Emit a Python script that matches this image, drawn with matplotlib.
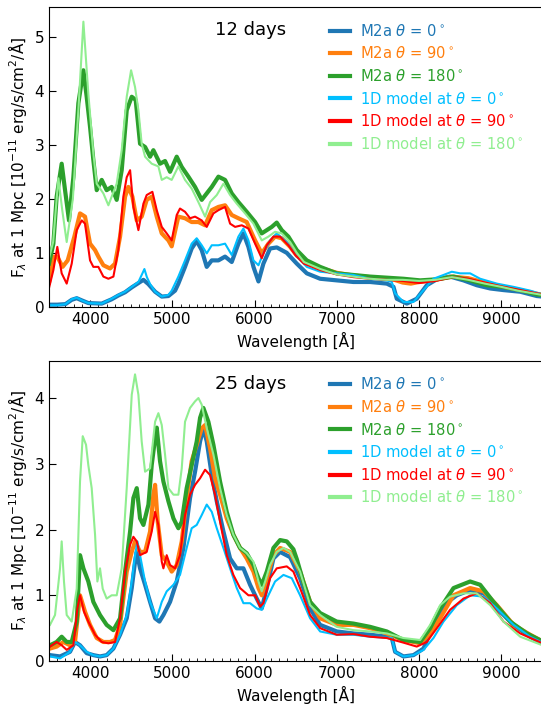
import numpy as np
import matplotlib
matplotlib.use('Agg')
import matplotlib.pyplot as plt
from matplotlib.ticker import MultipleLocator

# --- 12 days: (wavelength [A], flux [1e-11 erg/s/cm2/A])
m2a_0_12d = [(3500, 0.04), (3600, 0.04), (3700, 0.05), (3776, 0.13), (3837, 0.16), (3898, 0.12),
             (3978, 0.07), (4141, 0.06), (4262, 0.14), (4343, 0.21), (4425, 0.27), (4506, 0.36),
             (4587, 0.44), (4648, 0.5), (4709, 0.42), (4790, 0.28), (4871, 0.19), (4952, 0.2),
             (4992, 0.25), (5033, 0.3), (5073, 0.43), (5154, 0.74), (5235, 1.08), (5296, 1.22),
             (5357, 1.05), (5418, 0.74), (5479, 0.86), (5560, 0.86), (5641, 0.93), (5722, 0.83),
             (5803, 1.17), (5864, 1.36), (5925, 1.11), (5986, 0.74), (6047, 0.47), (6107, 0.8),
             (6188, 1.08), (6270, 1.1), (6391, 1.0), (6513, 0.8), (6635, 0.62), (6797, 0.52),
             (6999, 0.49), (7202, 0.46), (7405, 0.46), (7608, 0.43), (7689, 0.37), (7729, 0.15),
             (7851, 0.06), (7972, 0.15), (8094, 0.4), (8216, 0.51), (8378, 0.56), (8540, 0.49),
             (8702, 0.4), (8865, 0.34), (9027, 0.31), (9230, 0.28), (9432, 0.2), (9500, 0.19)]
m2a_90_12d = [(3500, 0.45), (3560, 0.93), (3600, 0.93), (3665, 0.74), (3727, 0.86), (3808, 1.3),
              (3877, 1.73), (3938, 1.67), (3999, 1.17), (4060, 1.05), (4100, 0.93), (4161, 0.77),
              (4242, 0.71), (4303, 0.8), (4364, 1.3), (4425, 2.04), (4465, 2.22), (4514, 2.04),
              (4567, 1.6), (4627, 1.67), (4688, 1.98), (4749, 2.04), (4810, 1.67), (4871, 1.36),
              (4952, 1.23), (4992, 1.12), (5033, 1.4), (5073, 1.67), (5154, 1.64), (5235, 1.57),
              (5317, 1.57), (5398, 1.51), (5479, 1.79), (5560, 1.85), (5641, 1.88), (5722, 1.7),
              (5803, 1.64), (5904, 1.57), (6006, 1.23), (6087, 0.99), (6168, 1.17), (6249, 1.3),
              (6330, 1.27), (6432, 1.11), (6513, 0.95), (6600, 0.85), (6800, 0.72), (7000, 0.63),
              (7200, 0.58), (7400, 0.55), (7600, 0.52), (7700, 0.5), (7800, 0.45), (7900, 0.43),
              (8000, 0.46), (8200, 0.5), (8400, 0.56), (8600, 0.53), (8800, 0.45), (9000, 0.38),
              (9200, 0.32), (9500, 0.22)]
m2a_180_12d = [(3500, 0.8), (3553, 1.17), (3593, 2.04), (3654, 2.65), (3695, 2.16), (3743, 1.6),
               (3796, 2.4), (3857, 3.77), (3918, 4.38), (3958, 3.89), (3999, 3.33), (4039, 2.72),
               (4080, 2.16), (4141, 2.35), (4201, 2.16), (4262, 2.22), (4323, 1.98), (4384, 2.53),
               (4445, 3.64), (4506, 3.89), (4554, 3.83), (4607, 3.02), (4668, 2.96), (4729, 2.78),
               (4769, 2.9), (4850, 2.65), (4911, 2.7), (4972, 2.5), (5053, 2.78), (5114, 2.59),
               (5195, 2.41), (5276, 2.22), (5357, 1.98), (5418, 2.1), (5479, 2.22), (5560, 2.41),
               (5641, 2.35), (5722, 2.1), (5803, 1.94), (5904, 1.76), (6006, 1.57), (6087, 1.36),
               (6148, 1.42), (6209, 1.48), (6269, 1.56), (6330, 1.42), (6411, 1.3), (6513, 1.05),
               (6635, 0.86), (6797, 0.74), (6999, 0.62), (7202, 0.59), (7405, 0.56), (7608, 0.54),
               (7810, 0.52), (8013, 0.49), (8216, 0.51), (8419, 0.56), (8621, 0.49), (8824, 0.4),
               (9027, 0.37), (9230, 0.31), (9432, 0.23), (9500, 0.22)]
m1d_0_12d = [(3500, 0.03), (3600, 0.03), (3700, 0.05), (3776, 0.14), (3837, 0.17), (3898, 0.12),
             (3978, 0.07), (4141, 0.06), (4262, 0.15), (4343, 0.22), (4425, 0.28), (4506, 0.37),
             (4587, 0.46), (4630, 0.6), (4660, 0.7), (4690, 0.55), (4730, 0.42), (4790, 0.28),
             (4871, 0.19), (4952, 0.22), (4992, 0.3), (5073, 0.56), (5154, 0.86), (5235, 1.17),
             (5296, 1.27), (5357, 1.14), (5418, 0.99), (5479, 1.14), (5560, 1.14), (5641, 1.17),
             (5722, 0.96), (5803, 1.3), (5864, 1.45), (5925, 1.23), (5986, 0.86), (6047, 0.77),
             (6107, 0.99), (6188, 1.23), (6270, 1.36), (6391, 1.2), (6513, 0.93), (6635, 0.74),
             (6797, 0.65), (6999, 0.62), (7202, 0.59), (7405, 0.52), (7608, 0.49), (7669, 0.46),
             (7709, 0.25), (7810, 0.09), (7932, 0.09), (8054, 0.31), (8175, 0.52), (8297, 0.59),
             (8398, 0.65), (8500, 0.62), (8621, 0.62), (8743, 0.52), (8946, 0.43), (9149, 0.37),
             (9351, 0.3), (9500, 0.23)]
m1d_90_12d = [(3500, 0.35), (3553, 0.68), (3601, 1.11), (3654, 0.62), (3715, 0.43), (3776, 0.8),
              (3837, 1.42), (3898, 1.6), (3938, 1.54), (3999, 0.86), (4039, 0.74), (4100, 0.74),
              (4161, 0.56), (4222, 0.52), (4283, 0.56), (4343, 1.05), (4404, 2.04), (4445, 2.4),
              (4486, 2.53), (4526, 1.85), (4587, 1.42), (4648, 1.91), (4688, 2.07), (4757, 2.13),
              (4810, 1.79), (4871, 1.48), (4931, 1.36), (4992, 1.23), (5053, 1.7), (5093, 1.82),
              (5154, 1.76), (5215, 1.64), (5276, 1.67), (5357, 1.6), (5418, 1.48), (5499, 1.73),
              (5560, 1.79), (5641, 1.85), (5702, 1.54), (5763, 1.48), (5844, 1.51), (5925, 1.45),
              (6006, 1.17), (6087, 0.9), (6148, 1.14), (6229, 1.3), (6310, 1.3), (6411, 1.14),
              (6500, 0.95), (6600, 0.8), (6800, 0.68), (7000, 0.6), (7200, 0.55), (7400, 0.52),
              (7600, 0.5), (7800, 0.48), (8000, 0.44), (8200, 0.48), (8400, 0.55), (8600, 0.52),
              (8800, 0.45), (9000, 0.38), (9200, 0.32), (9500, 0.23)]
m1d_180_12d = [(3500, 0.9), (3550, 1.2), (3614, 2.38), (3660, 1.8), (3715, 1.2), (3790, 2.0),
               (3857, 3.64), (3918, 5.28), (3978, 3.95), (4039, 2.84), (4080, 2.28), (4161, 2.1),
               (4222, 1.88), (4262, 2.04), (4323, 2.28), (4384, 2.9), (4445, 3.89), (4498, 4.38),
               (4546, 4.07), (4587, 3.64), (4627, 3.02), (4668, 2.78), (4749, 2.65), (4830, 2.6),
               (4871, 2.35), (4931, 2.4), (4992, 2.35), (5073, 2.6), (5154, 2.35), (5235, 2.19),
               (5316, 1.94), (5398, 1.67), (5459, 1.94), (5540, 2.07), (5621, 2.28), (5702, 2.07),
               (5783, 1.91), (5884, 1.73), (5986, 1.54), (6087, 1.23), (6168, 1.3), (6249, 1.39),
               (6330, 1.36), (6432, 1.2), (6513, 1.0), (6600, 0.83), (6800, 0.7), (7000, 0.6),
               (7200, 0.56), (7400, 0.52), (7600, 0.5), (7800, 0.5), (8000, 0.48), (8200, 0.5),
               (8400, 0.55), (8600, 0.5), (8800, 0.43), (9000, 0.37), (9200, 0.3), (9500, 0.22)]

# --- 25 days
m2a_0_25d = [(3512, 0.09), (3634, 0.07), (3755, 0.14), (3816, 0.29), (3877, 0.24), (3958, 0.12),
             (4039, 0.09), (4120, 0.07), (4201, 0.09), (4283, 0.19), (4364, 0.4), (4445, 0.65),
             (4506, 1.11), (4546, 1.51), (4567, 1.66), (4607, 1.41), (4668, 1.16), (4729, 0.9),
             (4790, 0.65), (4842, 0.6), (4891, 0.7), (4972, 0.9), (5053, 1.21), (5134, 1.72),
             (5215, 2.48), (5276, 2.88), (5337, 3.34), (5377, 3.54), (5418, 3.34), (5479, 2.83),
             (5540, 2.43), (5621, 1.97), (5702, 1.56), (5783, 1.41), (5864, 1.41), (5945, 1.16),
             (6026, 0.95), (6087, 0.8), (6148, 1.11), (6229, 1.56), (6310, 1.66), (6432, 1.58),
             (6553, 1.26), (6675, 0.8), (6797, 0.55), (6999, 0.45), (7202, 0.42), (7405, 0.4),
             (7608, 0.37), (7669, 0.35), (7709, 0.14), (7810, 0.07), (7932, 0.09), (8054, 0.19),
             (8175, 0.55), (8297, 0.85), (8459, 1.0), (8621, 1.08), (8784, 1.03), (8946, 0.8),
             (9149, 0.55), (9351, 0.37), (9500, 0.27)]
m2a_90_25d = [(3512, 0.19), (3593, 0.22), (3674, 0.29), (3755, 0.24), (3816, 0.29), (3877, 1.0),
              (3938, 0.75), (3999, 0.55), (4080, 0.35), (4161, 0.29), (4242, 0.29), (4303, 0.32),
              (4364, 0.55), (4445, 1.36), (4506, 1.66), (4546, 1.82), (4607, 1.66), (4668, 1.66),
              (4729, 1.97), (4769, 2.53), (4790, 2.68), (4822, 2.12), (4871, 1.61), (4931, 1.51),
              (4992, 1.36), (5053, 1.46), (5114, 1.82), (5174, 2.48), (5235, 3.04), (5296, 3.29),
              (5357, 3.54), (5398, 3.59), (5458, 3.24), (5519, 2.78), (5580, 2.53), (5661, 2.17),
              (5742, 1.92), (5823, 1.72), (5904, 1.56), (5986, 1.36), (6047, 1.11), (6087, 1.0),
              (6148, 1.26), (6229, 1.61), (6310, 1.72), (6432, 1.66), (6553, 1.36), (6675, 0.9),
              (6797, 0.65), (6999, 0.55), (7202, 0.55), (7405, 0.5), (7608, 0.42), (7810, 0.32),
              (8013, 0.27), (8135, 0.42), (8256, 0.65), (8419, 1.0), (8621, 1.11), (8784, 1.06),
              (8946, 0.85), (9149, 0.55), (9351, 0.4), (9500, 0.3)]
m2a_180_25d = [(3512, 0.24), (3593, 0.29), (3654, 0.37), (3715, 0.29), (3776, 0.29), (3837, 0.6),
               (3877, 1.61), (3918, 1.41), (3978, 1.21), (4039, 0.9), (4120, 0.7), (4201, 0.55),
               (4283, 0.47), (4364, 0.65), (4425, 1.36), (4486, 1.97), (4526, 2.48), (4567, 2.63),
               (4607, 2.17), (4648, 2.07), (4709, 2.38), (4749, 2.98), (4790, 3.39), (4810, 3.55),
               (4850, 3.04), (4891, 2.73), (4952, 2.43), (5013, 2.17), (5073, 2.02), (5114, 2.12),
               (5174, 2.63), (5235, 2.98), (5296, 3.34), (5337, 3.7), (5377, 3.85), (5438, 3.64),
               (5499, 3.29), (5580, 2.73), (5661, 2.27), (5742, 1.92), (5823, 1.72), (5904, 1.64),
               (5986, 1.46), (6047, 1.26), (6087, 1.16), (6148, 1.36), (6229, 1.72), (6310, 1.84),
               (6391, 1.82), (6472, 1.7), (6513, 1.55), (6594, 1.2), (6675, 0.9), (6797, 0.73),
               (6999, 0.6), (7202, 0.57), (7405, 0.52), (7608, 0.45), (7810, 0.32), (8013, 0.29),
               (8135, 0.5), (8256, 0.8), (8419, 1.11), (8621, 1.21), (8743, 1.16), (8905, 0.9),
               (9108, 0.6), (9311, 0.42), (9500, 0.3)]
m1d_0_25d = [(3512, 0.07), (3634, 0.04), (3755, 0.14), (3816, 0.29), (3877, 0.24), (3958, 0.14),
             (4039, 0.09), (4120, 0.07), (4201, 0.09), (4283, 0.19), (4364, 0.4), (4445, 0.7),
             (4506, 1.21), (4546, 1.61), (4575, 1.82), (4607, 1.61), (4668, 1.21), (4729, 0.9),
             (4810, 0.65), (4871, 0.9), (4931, 1.06), (5013, 1.16), (5093, 1.31), (5174, 1.72),
             (5235, 2.02), (5296, 2.07), (5357, 2.22), (5418, 2.38), (5479, 2.27), (5540, 2.02),
             (5621, 1.72), (5702, 1.41), (5783, 1.11), (5864, 0.88), (5945, 0.88), (6026, 0.8),
             (6087, 0.78), (6168, 1.0), (6249, 1.21), (6351, 1.31), (6452, 1.26), (6553, 1.0),
             (6675, 0.65), (6797, 0.45), (6999, 0.4), (7202, 0.4), (7405, 0.37), (7669, 0.35),
             (7709, 0.14), (7810, 0.07), (7932, 0.09), (8054, 0.17), (8175, 0.35), (8297, 0.6),
             (8459, 0.85), (8621, 1.0), (8784, 0.98), (8946, 0.8), (9149, 0.55), (9351, 0.37),
             (9500, 0.28)]
m1d_90_25d = [(3512, 0.22), (3593, 0.29), (3654, 0.24), (3715, 0.17), (3796, 0.24), (3845, 0.8),
              (3877, 1.0), (3926, 0.75), (3978, 0.6), (4060, 0.4), (4141, 0.29), (4222, 0.27),
              (4303, 0.29), (4364, 0.65), (4425, 1.36), (4486, 1.77), (4526, 1.89), (4567, 1.82),
              (4607, 1.61), (4688, 1.66), (4749, 1.97), (4790, 2.27), (4830, 2.07), (4871, 1.51),
              (4891, 1.41), (4931, 1.61), (4972, 1.46), (5033, 1.41), (5093, 1.61), (5154, 2.22),
              (5215, 2.53), (5276, 2.68), (5337, 2.78), (5398, 2.91), (5458, 2.83), (5519, 2.53),
              (5580, 2.12), (5661, 1.61), (5742, 1.31), (5823, 1.11), (5925, 1.0), (6006, 1.0),
              (6067, 0.83), (6107, 0.88), (6188, 1.26), (6269, 1.41), (6391, 1.44), (6472, 1.36),
              (6553, 1.11), (6675, 0.7), (6797, 0.5), (6999, 0.4), (7202, 0.41), (7405, 0.37),
              (7608, 0.35), (7810, 0.28), (7972, 0.22), (8094, 0.29), (8216, 0.5), (8378, 0.78),
              (8540, 0.95), (8702, 1.03), (8865, 0.88), (9027, 0.6), (9230, 0.42), (9500, 0.27)]
m1d_180_25d = [(3512, 0.55), (3573, 0.7), (3634, 1.41), (3654, 1.82), (3682, 1.21), (3715, 0.7),
               (3776, 0.6), (3837, 1.1), (3877, 2.73), (3910, 3.42), (3950, 3.29), (3978, 2.98),
               (4019, 2.63), (4060, 1.92), (4088, 1.21), (4120, 1.41), (4153, 1.1), (4201, 0.95),
               (4262, 1.0), (4323, 1.0), (4384, 1.41), (4445, 2.63), (4506, 4.05), (4546, 4.36),
               (4587, 4.05), (4627, 3.34), (4668, 2.88), (4729, 2.93), (4790, 3.64), (4830, 3.77),
               (4871, 3.59), (4911, 3.14), (4952, 2.63), (5013, 2.53), (5073, 2.53), (5114, 2.93),
               (5154, 3.64), (5215, 3.85), (5276, 3.95), (5317, 4.0), (5357, 3.9), (5418, 3.54),
               (5499, 3.14), (5580, 2.63), (5661, 2.22), (5742, 1.92), (5823, 1.72), (5904, 1.64),
               (5986, 1.51), (6047, 1.21), (6087, 1.06), (6128, 1.21), (6188, 1.46), (6269, 1.66),
               (6351, 1.72), (6432, 1.66), (6553, 1.36), (6675, 0.85), (6797, 0.7), (6999, 0.52),
               (7202, 0.47), (7405, 0.45), (7608, 0.42), (7810, 0.35), (8013, 0.32), (8135, 0.55),
               (8256, 0.85), (8378, 0.98), (8540, 1.03), (8702, 1.03), (8865, 0.85), (9027, 0.6),
               (9230, 0.37), (9500, 0.24)]

labels = [r'M2a $\theta$ = 0$^\circ$', r'M2a $\theta$ = 90$^\circ$', r'M2a $\theta$ = 180$^\circ$',
          r'1D model at $\theta$ = 0$^\circ$', r'1D model at $\theta$ = 90$^\circ$',
          r'1D model at $\theta$ = 180$^\circ$']
colors = ['tab:blue', 'tab:orange', 'tab:green', 'deepskyblue', 'red', 'lightgreen']
widths = [3.0, 3.0, 3.0, 1.5, 1.5, 1.5]

plt.rcParams['font.size'] = 11

fig = plt.figure(figsize=(5.41, 7.07), dpi=100)
ax1 = fig.add_axes([0.0906, 0.566, 0.912, 0.424])
ax2 = fig.add_axes([0.0906, 0.065, 0.912, 0.425])


def draw(ax, series, title, ytop):
    for s, lab, c, w in zip(series, labels, colors, widths):
        d = np.array(s, dtype=float)
        ax.plot(d[:, 0], d[:, 1], color=c, lw=w, label=lab)
    ax.set_xlim(3500, 9500)
    ax.set_ylim(0, ytop)
    ax.xaxis.set_major_locator(MultipleLocator(1000))
    ax.xaxis.set_minor_locator(MultipleLocator(100))
    ax.yaxis.set_major_locator(MultipleLocator(1))
    ax.tick_params(which='both', direction='in')
    ax.tick_params(which='major', length=5)
    ax.tick_params(which='minor', length=2.5)
    ax.set_xlabel('Wavelength [Å]')
    ax.set_ylabel(r'F$_\lambda$ at 1 Mpc [10$^{-11}$ erg/s/cm$^2$/Å]')
    ax.text(0.337, 0.923, title, transform=ax.transAxes, fontsize=13, va='center')
    leg = ax.legend(loc='upper right', bbox_to_anchor=(0.982, 0.982), frameon=False,
                    handlelength=1.3, handletextpad=0.7, labelspacing=0.45,
                    fontsize=10.6, borderaxespad=0.3)
    for t, c in zip(leg.get_texts(), colors):
        t.set_color(c)
    for h in leg.get_lines():
        h.set_linewidth(3)


draw(ax1, [m2a_0_12d, m2a_90_12d, m2a_180_12d, m1d_0_12d, m1d_90_12d, m1d_180_12d], '12 days', 5.55)
draw(ax2, [m2a_0_25d, m2a_90_25d, m2a_180_25d, m1d_0_25d, m1d_90_25d, m1d_180_25d], '25 days', 4.57)

fig.savefig('out.png', dpi=100)
